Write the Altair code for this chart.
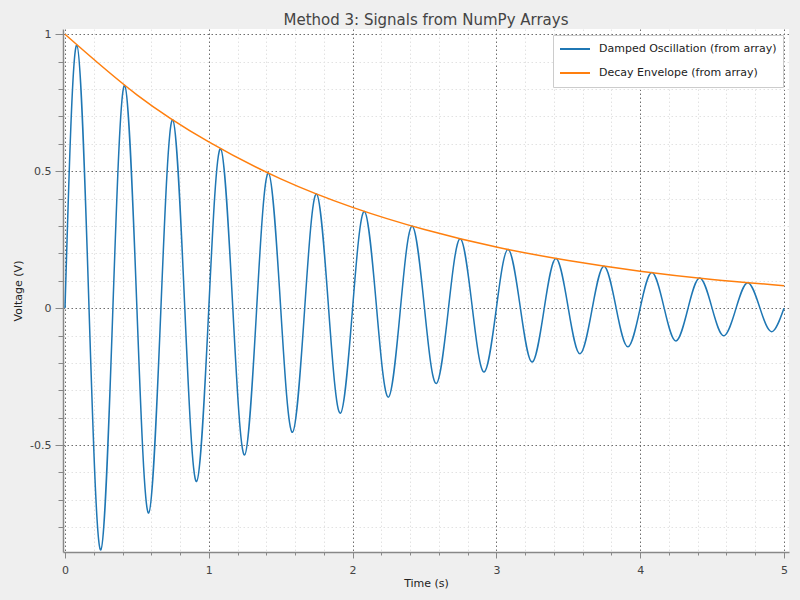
import altair as alt
import pandas as pd

# ---- data ----
osc_t = [0.0, 0.082, 0.167, 0.249, 0.333, 0.415, 0.5, 0.582, 0.667, 0.749,
         0.833, 0.915, 1.0, 1.082, 1.167, 1.249, 1.333, 1.415, 1.5, 1.582,
         1.667, 1.749, 1.833, 1.915, 2.0, 2.082, 2.167, 2.249, 2.333, 2.415,
         2.5, 2.582, 2.667, 2.749, 2.833, 2.915, 3.0, 3.082, 3.167, 3.249,
         3.333, 3.415, 3.5, 3.582, 3.667, 3.749, 3.833, 3.915, 4.0, 4.082,
         4.167, 4.249, 4.333, 4.415, 4.5, 4.582, 4.667, 4.749, 4.833, 4.915, 5.0]
osc_v = [0, 0.960, 0, -0.883, 0, 0.813, 0, -0.748, 0, 0.688,
         0, -0.633, 0, 0.582, 0, -0.536, 0, 0.493, 0, -0.453,
         0, 0.417, 0, -0.384, 0, 0.353, 0, -0.325, 0, 0.299,
         0, -0.275, 0, 0.253, 0, -0.233, 0, 0.214, 0, -0.197,
         0, 0.181, 0, -0.167, 0, 0.153, 0, -0.141, 0, 0.130,
         0, -0.120, 0, 0.110, 0, -0.101, 0, 0.093, 0, -0.086, 0]

env_t = [0.0, 0.5, 1.0, 1.5, 2.0, 2.5, 3.0, 3.5, 4.0, 4.5, 5.0]
env_v = [1.0, 0.779, 0.607, 0.472, 0.368, 0.287, 0.223, 0.174, 0.135, 0.105, 0.082]

series_names = ["Damped Oscillation (from array)", "Decay Envelope (from array)"]
series_colors = ["#1f77b4", "#ff7f0e"]

x_ticks = [0.0, 0.2, 0.4, 0.6, 0.8, 1.0, 1.2, 1.4, 1.6, 1.8, 2.0, 2.2, 2.4, 2.6,
           2.8, 3.0, 3.2, 3.4, 3.6, 3.8, 4.0, 4.2, 4.4, 4.6, 4.8, 5.0]
y_ticks = [-0.8, -0.7, -0.6, -0.5, -0.4, -0.3, -0.2, -0.1, 0.0, 0.1, 0.2, 0.3,
           0.4, 0.5, 0.6, 0.7, 0.8, 0.9, 1.0]

osc = pd.DataFrame({"t": osc_t, "v": osc_v, "series": series_names[0]})
env = pd.DataFrame({"t": env_t, "v": env_v, "series": series_names[1]})
df = pd.concat([osc, env], ignore_index=True)

FONT = "DejaVu Sans"
x_major = "datum.value % 1 === 0"
y_major = "abs(datum.value*2 - round(datum.value*2)) < 1e-6"

x_axis = alt.Axis(
    values=x_ticks,
    title="Time (s)",
    labelExpr=f"({x_major}) ? ('' + datum.value) : ''",
    grid=True,
    gridColor={"condition": {"test": x_major, "value": "#6e6e6e"}, "value": "#e2e2e2"},
    gridDash=[1.5, 2.5],
    gridWidth=1,
    tickSize={"condition": {"test": x_major, "value": 6}, "value": 3},
    tickColor="#888888",
    domainColor="#888888",
    domainWidth=1.5,
    labelPadding=6,
    titlePadding=2,
    labelFlush=False,
    labelOverlap=False,
)
y_axis = alt.Axis(
    values=y_ticks,
    title="Voltage (V)",
    labelExpr=f"({y_major}) ? ('' + datum.value) : ''",
    grid=True,
    gridColor={"condition": {"test": y_major, "value": "#6e6e6e"}, "value": "#e2e2e2"},
    gridDash=[1.5, 2.5],
    gridWidth=1,
    tickSize={"condition": {"test": y_major, "value": 8}, "value": 5},
    tickColor="#888888",
    domainColor="#888888",
    domainWidth=1.5,
    labelPadding=4,
    titlePadding=6,
    labelFlush=False,
    labelOverlap=False,
)

chart = (
    alt.Chart(df)
    .mark_line(interpolate="natural", strokeWidth=1.5)
    .encode(
        x=alt.X("t:Q", scale=alt.Scale(domain=[-0.014, 5.035], nice=False, zero=False), axis=x_axis),
        y=alt.Y("v:Q", scale=alt.Scale(domain=[-0.8905, 1.0193], nice=False, zero=False), axis=y_axis),
        color=alt.Color(
            "series:N",
            scale=alt.Scale(domain=series_names, range=series_colors),
            legend=alt.Legend(
                title=None,
                orient="none",
                legendX=490,
                legendY=6,
                fillColor="white",
                strokeColor="#cccccc",
                padding=6,
                clipHeight=16,
                symbolType="stroke",
                symbolSize=900,
                symbolStrokeWidth=2,
                labelFont=FONT,
                labelFontSize=11,
                labelColor="#222222",
                labelOffset=8,
                rowPadding=8,
                labelLimit=300,
            ),
        ),
        detail="series:N",
    )
    .properties(
        width=726,
        height=523,
        title=alt.TitleParams(
            "Method 3: Signals from NumPy Arrays",
            font=FONT,
            fontSize=15,
            fontWeight="normal",
            color="#444444",
            anchor="middle",
            offset=0,
        ),
        background="#efefef",
        padding={"left": 63, "top": 29, "right": 11, "bottom": 48},
        autosize=alt.AutoSizeParams(type="none"),
    )
    .configure_view(fill="white", stroke=None)
    .configure_axis(
        labelFont=FONT,
        labelFontSize=11,
        labelColor="#444444",
        titleFont=FONT,
        titleFontSize=11,
        titleFontWeight="normal",
        titleColor="#222222",
    )
)

chart.save("out.html", embed_options={"renderer": "svg", "actions": False})
